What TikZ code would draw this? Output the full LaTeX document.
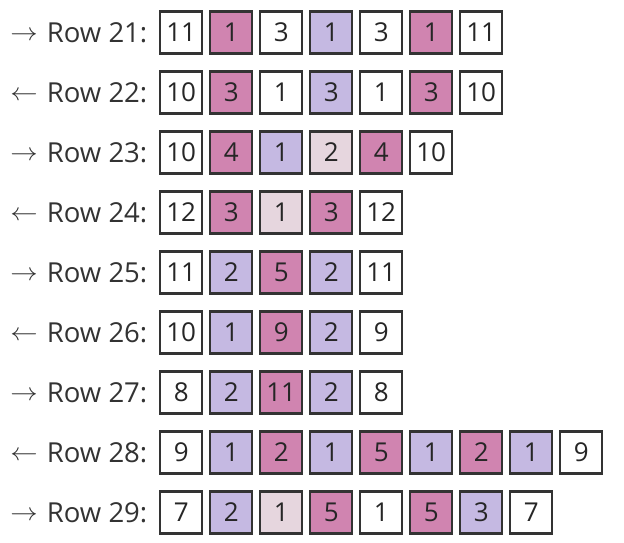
\documentclass[tikz,border=0pt]{standalone}
\usepackage{fontspec}
\setmainfont{Open Sans}
\definecolor{ink}{HTML}{333333}
\definecolor{cp}{HTML}{D084B0}
\definecolor{cl}{HTML}{C5B9E2}
\definecolor{cq}{HTML}{E6D6DE}
\definecolor{cw}{HTML}{FFFFFF}
\begin{document}
\begin{tikzpicture}[x=1pt,y=-1pt,
  cell/.style={draw=ink, line width=2.3pt, minimum size=42pt, inner sep=0pt,
    font=\fontsize{26}{30}\selectfont, text height=18.5pt, text depth=0pt, text=black!85},
  lbl/.style={anchor=base east, inner sep=0pt, font=\fontsize{27.5}{30}\selectfont, text=ink}]
\useasboundingbox (0,0) rectangle (624,542);
\foreach \r/\dir/\cells in {
  21/\rightarrow/{11/w,1/p,3/w,1/l,3/w,1/p,11/w},
  22/\leftarrow/{10/w,3/p,1/w,3/l,1/w,3/p,10/w},
  23/\rightarrow/{10/w,4/p,1/l,2/q,4/p,10/w},
  24/\leftarrow/{12/w,3/p,1/q,3/p,12/w},
  25/\rightarrow/{11/w,2/l,5/p,2/l,11/w},
  26/\leftarrow/{10/w,1/l,9/p,2/l,9/w},
  27/\rightarrow/{8/w,2/l,11/p,2/l,8/w},
  28/\leftarrow/{9/w,1/l,2/p,1/l,5/p,1/l,2/p,1/l,9/w},
  29/\rightarrow/{7/w,2/l,1/q,5/p,1/w,5/p,3/l,7/w}}{
  \pgfmathsetmacro{\yy}{32.5+60*(\r-21)}
  \node[lbl] (l\r) at (147.5,\yy+10) {\raisebox{2.5pt}{\scalebox{1.1}[1]{$\dir$}}\hspace{2pt} Row \r:};
  \foreach \v/\c [count=\i] in \cells {
    \node[cell, fill=c\c] (r\r c\i) at (181.2+50*\i-50,\yy) {\v};
  }
}
\end{tikzpicture}
\end{document}
